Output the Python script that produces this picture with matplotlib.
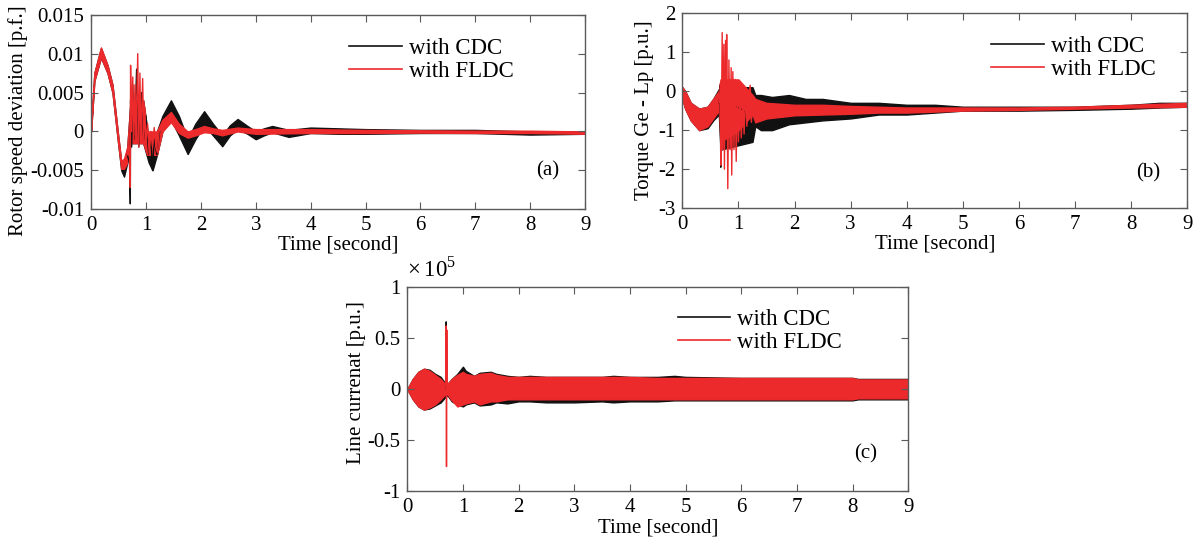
import matplotlib
matplotlib.use('Agg')
import matplotlib.pyplot as plt
from matplotlib.lines import Line2D
from matplotlib.ticker import FuncFormatter

plt.rcParams['font.family'] = ['Liberation Serif', 'DejaVu Serif']
plt.rcParams['axes.unicode_minus'] = False
plt.rcParams['mathtext.fontset'] = 'custom'
plt.rcParams['mathtext.rm'] = 'Liberation Serif'

BLACK = '#111111'
RED = '#ec2a2c'
SPINE = '#5a5a5a'

# ---- panel (a): rotor speed deviation [p.f.] ----
a_cdc_t = [0, 0.06, 0.18, 0.30, 0.39, 0.485, 0.55, 0.60, 0.66, 0.72, 0.95, 1.05, 1.12, 1.2, 1.3,
           1.455, 1.6, 1.76, 1.9, 2.06, 2.22, 2.39, 2.53, 2.67, 2.85, 3.0, 3.15, 3.3, 3.6, 4.0,
           4.5, 5.0, 6.0, 7.0, 7.5, 8.0, 9.0]
a_cdc_hi = [0.0005, 0.0075, 0.0107, 0.0085, 0.006, 0.0, -0.004, -0.0045, -0.002, 0.004, 0.004,
            -0.001, -0.001, 0.0, 0.002, 0.004, 0.002, -0.001, 0.001, 0.0026, 0.001, -0.0005,
            0.0008, 0.0016, 0.0007, 0.0, 0.0004, 0.0007, 0.0002, 0.0005, 0.0004, 0.0003,
            0.0002, 0.0002, 0.0001, 0.0, 0.0]
a_cdc_lo = [0.0, 0.0065, 0.0095, 0.0075, 0.005, -0.001, -0.005, -0.0058, -0.004, -0.0015,
            -0.0015, -0.004, -0.005, -0.003, 0.0, 0.0015, -0.0005, -0.0029, -0.001, 0.0008,
            -0.0005, -0.0019, -0.0005, 0.0003, -0.0003, -0.001, -0.0005, -0.0001, -0.0007,
            -0.0002, -0.0003, -0.0003, -0.0002, -0.0002, -0.0003, -0.0004, -0.0003]
a_cdc_spike_t = [0.66, 0.70, 0.715, 0.72, 0.74, 0.76, 0.79, 0.83, 0.87, 0.92, 0.96, 1.0, 1.05,
                 1.09, 1.12, 1.15, 1.2, 1.25]
a_cdc_spike_v = [-0.003, -0.004, -0.0093, 0.004, -0.002, 0.006, -0.001, 0.008, -0.002, 0.005,
                 -0.001, 0.002, -0.003, -0.001, -0.005, -0.001, -0.003, 0.0]

a_fldc_t = [0, 0.06, 0.18, 0.30, 0.39, 0.485, 0.55, 0.60, 0.66, 0.72, 0.95, 1.02, 1.2, 1.3,
            1.455, 1.6, 1.76, 1.9, 2.06, 2.22, 2.39, 2.67, 3.0, 4.0, 5.0, 6.0, 7.0, 8.0, 9.0]
a_fldc_hi = [0.0005, 0.0075, 0.0108, 0.0085, 0.006, 0.0, -0.0038, -0.0035, -0.002, 0.004,
             0.004, 0.0, 0.0, 0.0015, 0.0025, 0.001, 0.0, 0.0003, 0.0007, 0.0004, 0.0002,
             0.0005, 0.0003, 0.0003, 0.0002, 0.00015, 0.0001, 0.0001, 0.0]
a_fldc_lo = [0.0, 0.0065, 0.0095, 0.0075, 0.005, -0.001, -0.0048, -0.0048, -0.004, -0.0015,
             -0.0015, -0.003, -0.003, 0.0, 0.0012, -0.0002, -0.0008, -0.0005, -0.0001,
             -0.0002, -0.0005, 0.0, -0.0003, -0.0002, -0.0002, -0.00015, -0.0002, -0.0002,
             -0.0003]
a_fldc_spike_t = [0.66, 0.70, 0.715, 0.72, 0.74, 0.76, 0.78, 0.80, 0.82, 0.85, 0.87, 0.89,
                  0.91, 0.94, 0.96, 0.98, 1.0, 1.03, 1.06, 1.09, 1.12, 1.15, 1.18, 1.21,
                  1.24, 1.28, 1.32]
a_fldc_spike_v = [-0.003, -0.002, -0.0072, 0.0085, 0.0, 0.007, -0.001, 0.006, -0.0015, 0.010,
                  -0.002, 0.0075, -0.0015, 0.0068, -0.001, 0.003, -0.0015, 0.001, -0.003,
                  0.0, -0.002, 0.0005, -0.002, -0.0027, 0.0, 0.0005, 0.001]

# ---- panel (b): torque Ge - Lp [p.u.] ----
b_cdc_t = [0, 0.05, 0.15, 0.3, 0.45, 0.55, 0.65, 0.68, 1.25, 1.3, 1.4, 1.6, 1.9, 2.2, 2.5,
           3.0, 3.5, 4.0, 4.5, 5.0, 6.0, 7.0, 8.0, 8.5, 9.0]
b_cdc_hi = [0.1, 0.0, -0.3, -0.45, -0.4, -0.2, 0.05, 0.1, 0.1, -0.1, -0.1, -0.15, -0.1, -0.2,
            -0.2, -0.3, -0.3, -0.35, -0.35, -0.4, -0.4, -0.4, -0.35, -0.3, -0.3]
b_cdc_lo = [-0.2, -0.45, -0.75, -1.0, -0.95, -0.75, -0.6, -1.5, -1.3, -0.9, -1.0, -1.0,
            -0.85, -0.8, -0.75, -0.7, -0.6, -0.6, -0.55, -0.5, -0.5, -0.48, -0.45, -0.42,
            -0.4]
b_cdc_spike_t = [0.66, 0.675, 0.685, 0.70, 1.10, 1.12, 1.14]
b_cdc_spike_v = [-0.3, 0.15, -1.95, -0.2, -0.5, -1.2, -0.4]

b_fldc_t = [0, 0.05, 0.15, 0.3, 0.45, 0.55, 0.65, 0.68, 1.0, 1.25, 1.3, 1.5, 2.0, 2.5, 3.0,
            3.5, 4.0, 5.0, 6.0, 7.0, 8.0, 9.0]
b_fldc_hi = [0.1, 0.0, -0.3, -0.45, -0.4, -0.2, 0.0, 0.3, 0.3, -0.1, -0.2, -0.3, -0.35,
             -0.35, -0.38, -0.4, -0.42, -0.42, -0.42, -0.4, -0.35, -0.3]
b_fldc_lo = [-0.2, -0.45, -0.75, -1.0, -0.9, -0.7, -0.5, -1.3, -1.0, -0.6, -0.8, -0.7,
             -0.62, -0.6, -0.58, -0.55, -0.55, -0.5, -0.48, -0.45, -0.42, -0.4]
b_fldc_spike_t = [0.66, 0.68, 0.69, 0.71, 0.72, 0.74, 0.75, 0.77, 0.78, 0.79, 0.81, 0.83,
                  0.85, 0.87, 0.88, 0.90, 0.92, 0.94, 0.96, 0.98, 1.0, 1.03, 1.05, 1.08,
                  1.10, 1.13, 1.15, 1.18, 1.21, 1.23, 1.26]
b_fldc_spike_v = [-0.3, 0.2, -1.9, 1.5, -1.5, 1.2, -2.0, 1.3, -1.2, 1.45, -2.5, 0.8, -1.5,
                  0.6, -2.15, 0.5, -1.5, 0.3, -1.8, 0.0, -1.3, 0.0, -1.2, -0.2, -1.1, 0.0,
                  -0.9, -0.1, 0.15, -0.8, -0.3]

# ---- panel (c): line current [p.u., x 10^5] ----
c_cdc_t = [0, 0.1, 0.2, 0.3, 0.4, 0.5, 0.6, 0.68, 0.72, 0.8, 0.9, 1.0, 1.05, 1.2, 1.3, 1.5,
           1.6, 1.8, 2.0, 2.2, 2.5, 3.0, 3.5, 3.7, 4.0, 4.5, 4.8, 5.0, 6.0, 7.0, 8.0, 8.1, 9.0]
c_cdc_hi = [0, 0.1, 0.17, 0.2, 0.19, 0.15, 0.12, 0.06, 0.05, 0.1, 0.15, 0.22, 0.18, 0.13,
            0.16, 0.17, 0.15, 0.13, 0.12, 0.13, 0.12, 0.12, 0.12, 0.13, 0.12, 0.12, 0.13,
            0.12, 0.11, 0.11, 0.11, 0.1, 0.1]
c_cdc_lo = [0, -0.1, -0.17, -0.2, -0.19, -0.16, -0.13, -0.08, -0.06, -0.12, -0.15, -0.17,
            -0.15, -0.13, -0.16, -0.15, -0.13, -0.14, -0.12, -0.12, -0.13, -0.13, -0.12,
            -0.13, -0.12, -0.12, -0.11, -0.11, -0.11, -0.11, -0.11, -0.1, -0.1]
c_cdc_spike_t = [0.69, 0.70, 0.705]
c_cdc_spike_v = [0.05, 0.66, 0.0]

c_fldc_t = c_cdc_t
c_fldc_hi = [0, 0.1, 0.17, 0.2, 0.18, 0.14, 0.1, 0.05, 0.05, 0.1, 0.14, 0.17, 0.15, 0.13,
             0.15, 0.16, 0.14, 0.12, 0.12, 0.12, 0.12, 0.12, 0.12, 0.12, 0.12, 0.11, 0.11,
             0.11, 0.11, 0.11, 0.11, 0.095, 0.095]
c_fldc_lo = [0, -0.1, -0.17, -0.2, -0.18, -0.15, -0.1, -0.05, -0.05, -0.11, -0.17, -0.15,
             -0.14, -0.12, -0.15, -0.12, -0.12, -0.1, -0.1, -0.1, -0.1, -0.1, -0.1, -0.1,
             -0.1, -0.1, -0.1, -0.1, -0.1, -0.1, -0.1, -0.09, -0.09]
c_fldc_spike_t = [0.69, 0.70, 0.705, 0.71, 0.715]
c_fldc_spike_v = [0.05, 0.62, -0.76, 0.58, -0.05]

labels = ['with CDC', 'with FLDC']


def draw(ax, series):
    for t, hi, lo, st, sv, col in series:
        ax.fill_between(t, lo, hi, color=col, edgecolor=col, linewidth=1.0)
        ax.plot(st, sv, color=col, linewidth=1.0)


def style(ax, yticks, ylabel, tag, tagpos, legpos, ylab_xy):
    ax.set_xlim(0, 9)
    ax.set_ylim(yticks[0], yticks[-1])
    ax.set_xticks(range(10))
    ax.set_yticks(yticks)
    ax.yaxis.set_major_formatter(FuncFormatter(lambda v, p: '%g' % round(v, 6)))
    ax.tick_params(direction='in', top=True, right=True, length=5, width=0.8,
                   labelsize=15, color=SPINE, pad=5)
    for s in ax.spines.values():
        s.set_color(SPINE)
        s.set_linewidth(1.0)
    ax.set_xlabel('Time [second]', fontsize=15)
    ax.xaxis.set_label_coords(0.5, -0.135)
    ax.set_ylabel(ylabel, fontsize=15)
    ax.yaxis.set_label_coords(*ylab_xy)
    ax.text(tagpos[0], tagpos[1], tag, transform=ax.transAxes, fontsize=15,
            ha='center', va='center')
    handles = [Line2D([], [], color=BLACK, lw=1.2), Line2D([], [], color=RED, lw=1.2)]
    ax.legend(handles, labels, loc='upper left', bbox_to_anchor=legpos, frameon=False,
              fontsize=16.5, handlelength=2.3, handletextpad=0.3, labelspacing=0.1,
              borderaxespad=0, borderpad=0)


fig = plt.figure(figsize=(11.95, 5.45), dpi=100)
ax_a = fig.add_axes([0.0762, 0.616, 0.4134, 0.357])
ax_b = fig.add_axes([0.5710, 0.618, 0.4226, 0.358])
ax_c = fig.add_axes([0.3408, 0.099, 0.4192, 0.374])

draw(ax_a, [(a_cdc_t, a_cdc_hi, a_cdc_lo, a_cdc_spike_t, a_cdc_spike_v, BLACK),
            (a_fldc_t, a_fldc_hi, a_fldc_lo, a_fldc_spike_t, a_fldc_spike_v, RED)])
draw(ax_b, [(b_cdc_t, b_cdc_hi, b_cdc_lo, b_cdc_spike_t, b_cdc_spike_v, BLACK),
            (b_fldc_t, b_fldc_hi, b_fldc_lo, b_fldc_spike_t, b_fldc_spike_v, RED)])
draw(ax_c, [(c_cdc_t, c_cdc_hi, c_cdc_lo, c_cdc_spike_t, c_cdc_spike_v, BLACK),
            (c_fldc_t, c_fldc_hi, c_fldc_lo, c_fldc_spike_t, c_fldc_spike_v, RED)])

style(ax_a, [-0.01, -0.005, 0, 0.005, 0.01, 0.015], 'Rotor speed deviation [p.f.]',
      '(a)', (0.925, 0.2), (0.523, 0.88), (-0.128, 0.455))
style(ax_b, [-3, -2, -1, 0, 1, 2], 'Torque Ge - Lp [p.u.]',
      '(b)', (0.922, 0.18), (0.612, 0.885), (-0.057, 0.5))
style(ax_c, [-1, -0.5, 0, 0.5, 1], 'Line currenat [p.u.]',
      '(c)', (0.915, 0.18), (0.54, 0.895), (-0.082, 0.53))
ax_c.text(0.0, 1.03, r'$\times\,10^{5}$', transform=ax_c.transAxes, fontsize=16.5,
          ha='left', va='bottom')

fig.savefig('out.png', dpi=100)
